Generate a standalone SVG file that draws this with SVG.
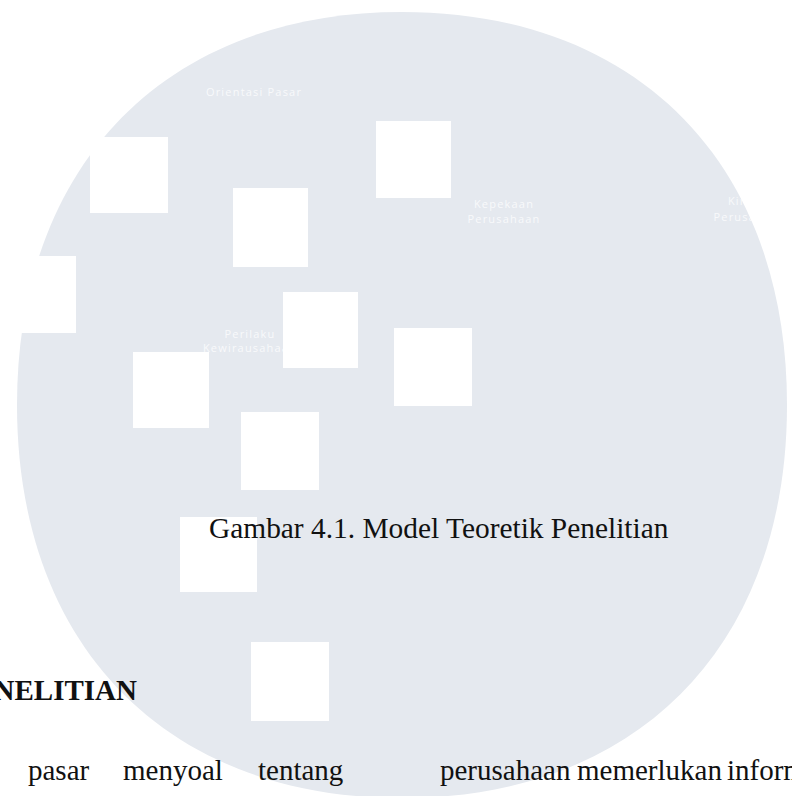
<svg xmlns="http://www.w3.org/2000/svg" width="792" height="796" viewBox="0 0 792 796">
  <style>
    .disc { fill: #e5e9ef; }
    .tile { fill: #ffffff; }
    .lbl { font-family: "Open Sans", "Noto Sans", sans-serif; font-size: 11px; letter-spacing: 1.2px; fill: #ffffff; fill-opacity: 0.75; text-anchor: middle; }
    .serif { font-family: "Liberation Serif", "Times New Roman", serif; font-size: 29px; fill: #111111; }
    .cap { font-size: 29.4px; }
    .bold { font-weight: bold; }
  </style>
  <rect width="792" height="796" fill="#ffffff"/>

  <!-- background disc: slightly squarish round outline -->
  <path class="disc" d="M402,12 C637.8,12 787,164.3 787,405 C787,645.7 637.8,798 402,798 C166.2,798 17,645.7 17,405 C17,164.3 166.2,12 402,12 Z"/>

  <!-- variable labels -->
  <g id="orientasi-pasar">
    <text class="lbl" x="254" y="96">Orientasi Pasar</text>
  </g>
  <g id="kepekaan-perusahaan">
    <text class="lbl" x="504" y="208">Kepekaan</text>
    <text class="lbl" x="504" y="223">Perusahaan</text>
  </g>
  <g id="kinerja-perusahaan">
    <text class="lbl" x="750" y="205">Kinerja</text>
    <text class="lbl" x="750" y="221">Perusahaan</text>
  </g>
  <g id="perilaku-kewirausahaan">
    <text class="lbl" x="250" y="338">Perilaku</text>
    <text class="lbl" x="250" y="352">Kewirausahaan</text>
  </g>

  <g id="connectors"/>

  <!-- white tiles laid over the disc -->
  <g id="tiles">
    <rect class="tile" x="90" y="137" width="78" height="76"/>
    <rect class="tile" x="233" y="188" width="75" height="79"/>
    <rect class="tile" x="376" y="121" width="75" height="77"/>
    <rect class="tile" x="0" y="256" width="76" height="77"/>
    <rect class="tile" x="283" y="292" width="75" height="76"/>
    <rect class="tile" x="133" y="352" width="76" height="76"/>
    <rect class="tile" x="241" y="412" width="78" height="78"/>
    <rect class="tile" x="394" y="328" width="78" height="78"/>
    <rect class="tile" x="180" y="517" width="77" height="75"/>
    <rect class="tile" x="251" y="642" width="78" height="79"/>
  </g>

  <!-- caption and body text -->
  <g id="caption">
    <text class="serif cap" x="209" y="538">Gambar 4.1. Model Teoretik Penelitian</text>
  </g>
  <g id="heading">
    <text class="serif bold" x="137" y="700" text-anchor="end">NELITIAN</text>
  </g>
  <g id="body">
    <text class="serif" y="780"><tspan x="28">pasar</tspan><tspan x="123">menyoal</tspan><tspan x="258">tentang</tspan><tspan x="440">perusahaan</tspan><tspan x="577">memerlukan</tspan><tspan x="727">informasi</tspan></text>
  </g>
</svg>
